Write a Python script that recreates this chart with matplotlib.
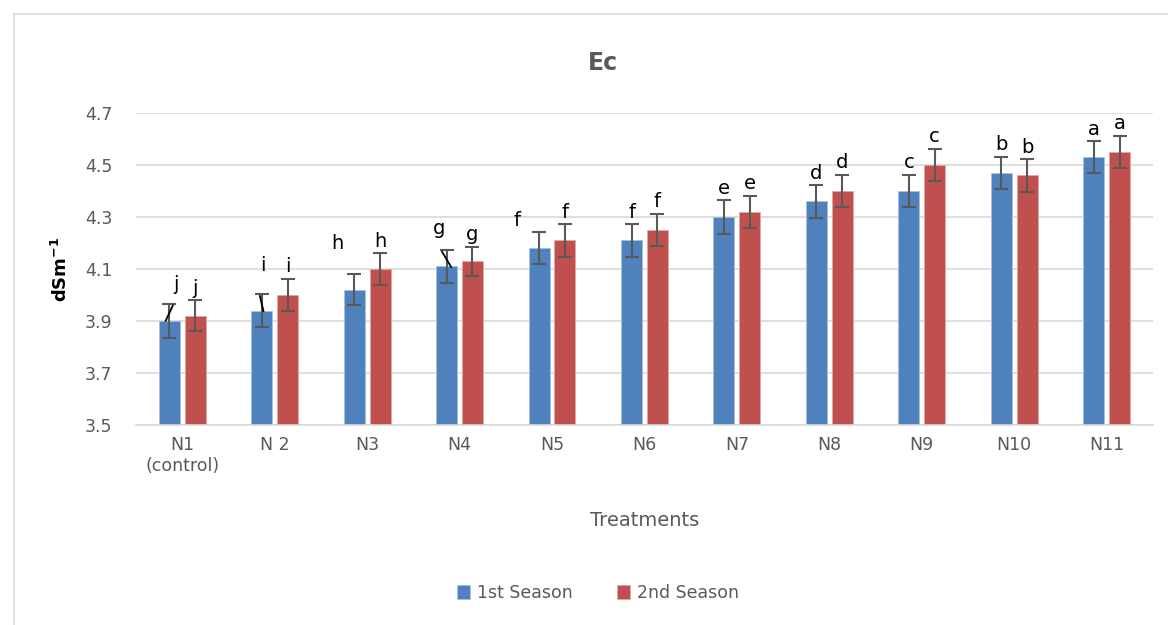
import numpy as np
import matplotlib.pyplot as plt
from matplotlib.patches import Rectangle

# data
treatments = ['N1\n(control)', 'N 2', 'N3', 'N4', 'N5', 'N6', 'N7', 'N8', 'N9', 'N10', 'N11']
season1 = [3.90, 3.94, 4.02, 4.11, 4.18, 4.21, 4.30, 4.36, 4.40, 4.47, 4.53]
season2 = [3.92, 4.00, 4.10, 4.13, 4.21, 4.25, 4.32, 4.40, 4.50, 4.46, 4.55]
err1 = [0.065, 0.062, 0.06, 0.062, 0.062, 0.062, 0.065, 0.062, 0.062, 0.062, 0.062]
err2 = [0.06, 0.062, 0.06, 0.055, 0.062, 0.062, 0.062, 0.062, 0.062, 0.062, 0.062]
letters1 = ['j', 'i', 'h', 'g', 'f', 'f', 'e', 'd', 'c', 'b', 'a']
letters2 = ['j', 'i', 'h', 'g', 'f', 'f', 'e', 'd', 'c', 'b', 'a']

blue = '#4f81bd'
red = '#c0504d'
grey = '#595959'
px = 0.72  # points per pixel at dpi 100

fig = plt.figure(figsize=(11.68, 6.25), dpi=100)
ax = fig.add_axes([0.1164, 0.32, 0.8707, 0.4992])

x = np.arange(len(treatments))
w = 0.227
off = 0.14
ax.bar(x - off, season1, w, color=blue, edgecolor='#a7c0de', linewidth=0.6,
       label='1st Season', zorder=2)
ax.bar(x + off, season2, w, color=red, edgecolor='#e0a8a6', linewidth=0.6,
       label='2nd Season', zorder=2)
ax.errorbar(x - off, season1, yerr=err1, fmt='none', ecolor=grey, elinewidth=1.5,
            capsize=5, capthick=1.5, zorder=3)
ax.errorbar(x + off, season2, yerr=err2, fmt='none', ecolor=grey, elinewidth=1.5,
            capsize=5, capthick=1.5, zorder=3)

# letter offsets in pixels (dx, height of letter centre above error cap)
shift1 = [(7, 20), (1, 29), (-17, 31), (-8, 22), (-22, 12), (0, 12), (0, 12), (0, 12),
          (0, 12), (0, 12), (0, 12)]
for i in range(len(x)):
    dx, dy = shift1[i]
    ax.annotate(letters1[i], (x[i] - off, season1[i] + err1[i]), xytext=(dx * px, dy * px),
                textcoords='offset points', ha='center', va='center', fontsize=14)
    ax.annotate(letters2[i], (x[i] + off, season2[i] + err2[i]), xytext=(0, 12 * px),
                textcoords='offset points', ha='center', va='center', fontsize=14)

# small leader strokes next to some 1st-season caps
for i, sgn, dxs in [(0, -1, 0.04), (1, 1, 0.02), (3, 1, 0.05)]:
    top = season1[i] + err1[i]
    ax.annotate('', (x[i] - off + sgn * dxs, top - 0.065), xytext=(x[i] - off - sgn * dxs, top - 0.005),
                arrowprops=dict(arrowstyle='-', color='black', lw=1.3,
                                shrinkA=0, shrinkB=0), zorder=4)

ax.set_ylim(3.5, 4.7)
ax.set_yticks(np.arange(3.5, 4.71, 0.2))
ax.set_yticklabels(['3.5', '3.7', '3.9', '4.1', '4.3', '4.5', '4.7'])
ax.set_xlim(-0.5, len(x) - 0.5)
ax.set_xticks(x)
ax.set_xticklabels(treatments)
ax.tick_params(colors=grey, labelsize=12.5, length=0)
ax.tick_params(axis='y', pad=17)
ax.tick_params(axis='x', pad=8)
ax.grid(axis='y', color='#d9d9d9', linewidth=1.2, zorder=0)
for s in ['top', 'right', 'left']:
    ax.spines[s].set_visible(False)
ax.spines['bottom'].set_color('#d9d9d9')
ax.spines['bottom'].set_linewidth(1.2)

fig.text(0.516, 0.899, 'Ec', fontsize=17, fontweight='bold', color=grey,
         ha='center', va='center')
ax.set_ylabel('dSm$^{\\mathbf{-1}}$', fontsize=13, fontweight='bold', labelpad=10)
ax.set_xlabel('Treatments', fontsize=14, color=grey, labelpad=26)

fig.legend(loc='center', bbox_to_anchor=(0.512, 0.051), ncol=2, frameon=False,
           fontsize=12.5, labelcolor=grey, handlelength=0.8, handleheight=0.8,
           columnspacing=2.5, handletextpad=0.4)

# chart area border
fig.patches.append(Rectangle((0.012, -0.01), 0.99, 0.988, transform=fig.transFigure,
                             fill=False, edgecolor='#d9d9d9', linewidth=1.2))

fig.savefig('out.png', dpi=100)
